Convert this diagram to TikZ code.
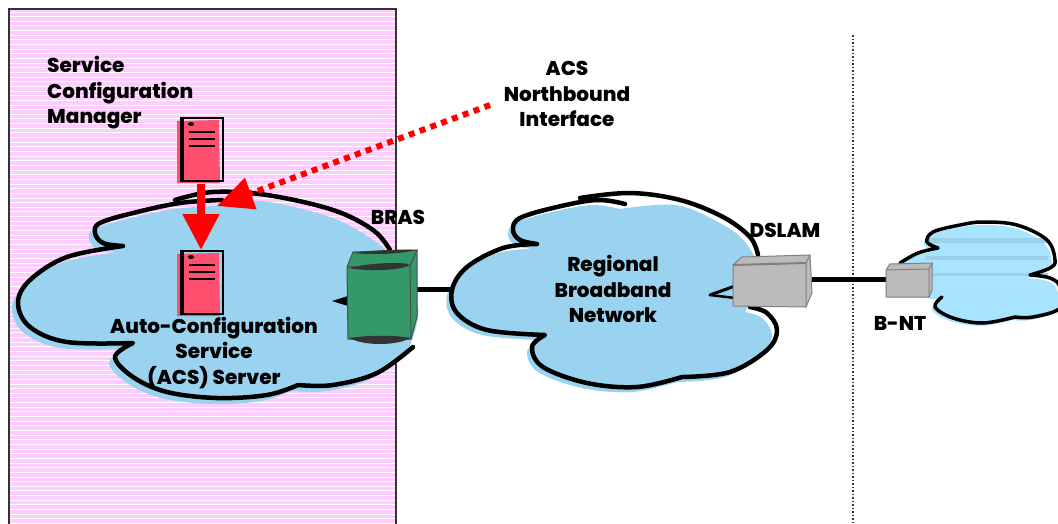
\documentclass[tikz,border=0pt]{standalone}
\usepackage{fontspec}
\setmainfont{Poppins}[BoldFont={Poppins ExtraBold}]
\usetikzlibrary{arrows.meta}
\definecolor{zonepink}{HTML}{FFCCFF}
\definecolor{cloudblue}{HTML}{99D3EF}
\definecolor{lightcloud}{HTML}{A8E4FF}
\definecolor{cloudstripe}{HTML}{9CCFE8}
\definecolor{serverred}{HTML}{FF5070}
\definecolor{brasgreen}{HTML}{339966}
\definecolor{boxgrey}{HTML}{BBBBBB}
\tikzset{
	cloudline/.style={black,line width=4.5pt,line join=round,line cap=round},
	linkline/.style={black,line width=5pt},
	device/.style={inner sep=0pt,outer sep=0pt},
	labeltext/.style={font=\bfseries\fontsize{20}{25.5}\selectfont,inner sep=0pt,text=black},
}
% Wolken
\newcommand{\acsoutline}{plot[smooth,tension=0.6] coordinates {(222,200) (180,203) (133,213) (100,223) (95,233) (103,243) (123,246)}
	-- plot[smooth,tension=0.6] coordinates {(123,246) (67,257) (30,280) (18,303) (30,327) (67,342) (133,343)}
	-- plot[smooth,tension=0.6] coordinates {(133,343) (115,357) (133,377) (167,392) (217,398) (267,395) (298,385)}
	-- plot[smooth,tension=0.6] coordinates {(298,385) (333,385) (377,373) (413,347)}}
\newcommand{\rbnoutline}{plot[smooth,tension=0.6] coordinates {(625,204) (597,200) (557,207) (520,218) (513,230) (520,240) (537,244)}
	-- plot[smooth,tension=0.6] coordinates {(537,244) (503,248) (467,267) (452,290) (457,313) (487,330) (545,335)}
	-- plot[smooth,tension=0.6] coordinates {(545,335) (532,347) (543,367) (587,383) (637,387) (682,377)}
	-- plot[smooth,tension=0.6] coordinates {(682,377) (730,372) (767,350) (777,330) (767,313) (750,307)}}
\newcommand{\bntoutline}{plot[smooth,tension=0.6] coordinates {(900,263) (918,253) (938,248)}
	-- plot[smooth,tension=0.6] coordinates {(938,248) (927,242) (933,232) (960,225) (983,222) (1017,225) (1047,240) (1055,260) (1050,268) (1030,275)}
	-- plot[smooth,tension=0.6] coordinates {(1030,275) (1050,278) (1060,287) (1060,308) (1033,317) (1015,317)}
	-- plot[smooth,tension=0.6] coordinates {(1015,317) (983,323) (953,318) (935,307) (942,297)}}
\begin{document}
\begin{tikzpicture}[x=1pt,y=-1pt]
	\useasboundingbox (0,0) rectangle (1058,523);
	\clip (0,0) rectangle (1058,523);
	%%%% Zone links
	\fill[zonepink] (9,9) rectangle (396,523);
	\foreach \y in {12,16.65,...,522} {
		\draw[white,line width=1pt] (10,\y) -- (395,\y);
	}
	\draw[black!80,line width=1.5pt] (9,530) -- (9,9) -- (396,9) -- (396,530);
	% Trennlinie
	\draw[black!80,line width=1.3pt,dash pattern=on 1.5pt off 2pt] (853,35) -- (853,523);
	%%%% Wolken
	\fill[cloudblue,xshift=-6pt,yshift=-6pt] \acsoutline
		-- plot[smooth,tension=0.6] coordinates {(413,347) (424,300) (396,250) (373,230) (333,210) (267,195) (222,200)} -- cycle;
	\draw[cloudline] \acsoutline;
	\draw[cloudline] plot[smooth,tension=0.6] coordinates {(175,200) (213,192) (267,195) (333,210) (373,230) (390,250)};
	\fill[cloudblue,xshift=-5pt,yshift=-5pt] \rbnoutline
		-- plot[smooth,tension=0.6] coordinates {(750,307) (765,270) (750,237) (723,217) (680,200) (625,204)} -- cycle;
	\draw[cloudline] \rbnoutline;
	\draw[cloudline] plot[smooth,tension=0.6] coordinates {(580,198) (630,193) (680,200) (723,217) (750,237) (758,255)};
	\fill[lightcloud,xshift=-3pt,yshift=-3pt] \bntoutline -- (900,290) -- (900,263) -- cycle;
	\foreach \y/\h in {238/5,256/4,273/3} {
		\fill[cloudstripe] (926,\y) rectangle (1048,\y+\h);
	}
	\draw[cloudline,line width=3.5pt] \bntoutline;
	% Spitzen an den Geraeten
	\fill[black] (332,301) -- (348,296) -- (348,306) -- cycle;
	\draw[cloudline,line width=3pt] (710,295) -- (735,286);
	\draw[cloudline,line width=2.5pt] (710,295) -- (735,298);
	%%%% Server
	\foreach \ty/\nm in {118/scm,251/acs} {
		\node[device,minimum width=46pt,minimum height=66pt] (\nm) at (201,\ty+33) {};
		\fill[serverred] (177,\ty+3) -- (219,\ty+2) -- (220,\ty+65) -- (177,\ty+65) -- cycle;
		\draw[black,line width=2pt] (180,\ty) -- (224,\ty);
		\draw[black,line width=4pt] (182,\ty) -- (182,\ty+63);
		\draw[black,line width=1.5pt] (223,\ty) -- (223,\ty+63);
		\draw[black,line width=2.5pt] (180,\ty+63) -- (224,\ty+63);
		\fill[black] (191,\ty+6) ellipse (3pt and 2pt);
		\foreach \ly/\lw in {14/1.2,21/2,28/1.2} {
			\draw[black,line width=\lw pt] (189,\ty+\ly) -- (215,\ty+\ly);
		}
	}
	%%%% BRAS
	\node[device,minimum width=70pt,minimum height=95pt] (bras) at (382,289) {};
	\coordinate (rbnedge) at (452,289);
	\draw[linkline] (bras) -- (rbnedge);
	\filldraw[fill=brasgreen,draw=black!70,line width=1pt] (347,267) -- (353,252) -- (417,250) -- (417,317) -- (411,339) -- (348,339) -- cycle;
	\draw[black!70,line width=1pt] (347,267) -- (410,266) -- (411,339) (410,266) -- (417,250);
	\fill[black!80] (353,253) .. controls (375,250) and (400,249) .. (417,250) .. controls (400,254) and (375,255) .. cycle;
	\fill[black!80] (349,268) .. controls (370,263) and (395,262) .. (409,264) .. controls (408,270) and (370,272) .. cycle;
	\fill[black!80] (349,338) .. controls (370,335) and (395,335) .. (411,338) .. controls (395,346) and (365,346) .. cycle;
	%%%% DSLAM
	\node[device,minimum width=80pt,minimum height=52pt] (dslam) at (772,279) {};
	\node[device,minimum width=46pt,minimum height=34pt] (bnt) at (909,279) {};
	\draw[linkline] (dslam) -- (bnt);
	\filldraw[fill=boxgrey,draw=black!50,line width=1pt] (733,265) -- (742,257) -- (810,255) -- (812,293) -- (806,307) -- (733,306) -- cycle;
	\draw[black!50,line width=1pt] (806,263) -- (806,307) (806,263) -- (810,255);
	\draw[black!50,line width=2pt] (733,265) -- (806,263);
	%%%% B-NT
	\filldraw[fill=boxgrey,draw=black!50,line width=1pt] (886,270) -- (890,264) -- (932,263) -- (932,290) -- (929,297) -- (886,297) -- cycle;
	\draw[black!50,line width=1pt] (886,270) -- (929,269) -- (929,297) (929,269) -- (932,263);
	%%%% Texte
	\node[labeltext,align=left,anchor=west] (scmtext) at (47,93) {Service\\Configuration\\Manager};
	\node[labeltext,align=center] (nbitext) at (567,94) {ACS\\Northbound\\Interface};
	\node[labeltext,align=center] (acstext) at (214,353) {Auto-Configuration\\Service\\(ACS) Server};
	\node[labeltext,align=center] (rbntext) at (613,289) {Regional\\Broadband\\Network};
	\node[labeltext] (brastext) at (398,217) {BRAS};
	\node[labeltext] (dslamtext) at (785,230) {DSLAM};
	\node[labeltext] (bnttext) at (900,323) {B-NT};
	%%%% Pfeile
	\coordinate (nbitail) at (490,105);
	\coordinate (nbitip) at (217,206);
	\draw[red,line width=6pt,dash pattern=on 6pt off 5.5pt,-{Triangle[length=36pt,width=32pt,sep=0pt]}] (nbitail) -- (nbitip);
	\draw[red,line width=8pt,shorten >=1pt,-{Triangle[length=36pt,width=35pt]}] (scm) -- (acs);
\end{tikzpicture}
\end{document}
